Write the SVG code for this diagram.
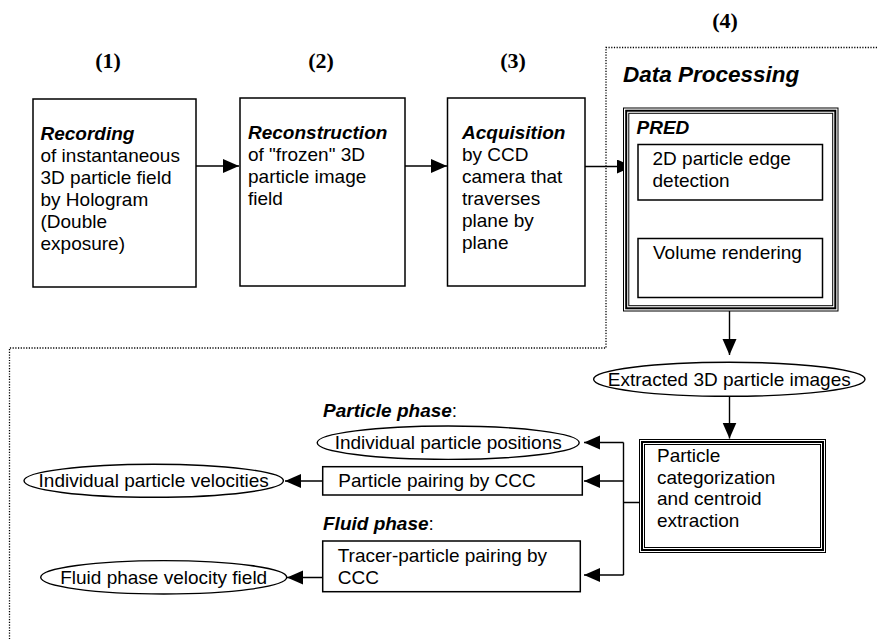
<svg xmlns="http://www.w3.org/2000/svg" width="877" height="639" viewBox="0 0 877 639">
<defs>
<marker id="ah" markerUnits="userSpaceOnUse" markerWidth="17" markerHeight="15" refX="16" refY="7" orient="auto">
<path d="M0,0 L16,7 L0,14 z" fill="#000"/>
</marker>
<style>
text{font-family:"Liberation Sans",Arial,sans-serif;font-size:19px;fill:#000}
.bi{font-weight:bold;font-style:italic}
.num{font-family:"Liberation Serif","Times New Roman",serif;font-weight:bold;font-size:22px}
.box{fill:#fff;stroke:#000;stroke-width:1.5}
.thin{fill:none;stroke:#000;stroke-width:1}
.thick{fill:none;stroke:#000;stroke-width:2}
.ell{fill:#fff;stroke:#000;stroke-width:1.4}
.con{fill:none;stroke:#000;stroke-width:1.4}
.arr{fill:none;stroke:#000;stroke-width:1.4;marker-end:url(#ah)}
.dot{fill:none;stroke:#000;stroke-width:1.3;stroke-dasharray:1.2 1.5}
</style>
</defs>
<rect width="877" height="639" fill="#fff"/>

<g id="region">
<path class="dot" d="M877,47.5 H606 V348 H9.5 V639"/>
</g>

<g id="labels">
<text class="num" x="108" y="68" text-anchor="middle">(1)</text>
<text class="num" x="321" y="68" text-anchor="middle">(2)</text>
<text class="num" x="513" y="68" text-anchor="middle">(3)</text>
<text class="num" x="725" y="28" text-anchor="middle">(4)</text>
<text class="bi" x="623" y="82" style="font-size:22.5px">Data Processing</text>
<text x="323" y="417"><tspan class="bi">Particle phase</tspan>:</text>
<text x="323" y="530"><tspan class="bi">Fluid phase</tspan>:</text>
</g>

<g id="connectors">
<line class="arr" x1="196" y1="166" x2="239" y2="166"/>
<line class="arr" x1="405" y1="166" x2="447" y2="166"/>
<line class="arr" x1="585" y1="166.5" x2="633" y2="166.5"/>
<line class="arr" x1="729.5" y1="200" x2="729.5" y2="236"/>
<line class="arr" x1="729.5" y1="311" x2="729.5" y2="355"/>
<line class="arr" x1="729.5" y1="396" x2="729.5" y2="438.5"/>
<path class="con" d="M639.5,502.5 H623.5 M623.5,442.5 V575"/>
<line class="arr" x1="623.5" y1="442.5" x2="584" y2="442.5"/>
<line class="arr" x1="623.5" y1="481" x2="584" y2="481"/>
<line class="arr" x1="623.5" y1="575" x2="584" y2="575"/>
<line class="arr" x1="322.5" y1="481" x2="285" y2="481"/>
<line class="arr" x1="322.5" y1="577.5" x2="287" y2="577.5"/>
</g>

<g id="recording">
<rect class="box" x="33" y="99" width="163" height="188"/>
<text x="40.5" y="140" class="bi">Recording</text>
<text x="40.5" y="162">of instantaneous</text>
<text x="40.5" y="184">3D particle field</text>
<text x="40.5" y="206">by Hologram</text>
<text x="40.5" y="228">(Double</text>
<text x="40.5" y="250">exposure)</text>
</g>

<g id="reconstruction">
<rect class="box" x="240" y="98" width="165" height="188"/>
<text x="248" y="138.5" class="bi">Reconstruction</text>
<text x="248" y="160.5">of "frozen" 3D</text>
<text x="248" y="182.5">particle image</text>
<text x="248" y="204.5">field</text>
</g>

<g id="acquisition">
<rect class="box" x="447.5" y="98" width="137.5" height="188"/>
<text x="462" y="139" class="bi">Acquisition</text>
<text x="462" y="161">by CCD</text>
<text x="462" y="183">camera that</text>
<text x="462" y="205">traverses</text>
<text x="462" y="227">plane by</text>
<text x="462" y="249">plane</text>
</g>

<g id="pred">
<rect x="623.5" y="108" width="214.5" height="203" fill="#fff" stroke="none"/>
<rect class="thin" x="623.5" y="108" width="214.5" height="203"/>
<rect class="thick" x="626.2" y="110.7" width="209.1" height="197.6"/>
<rect class="thin" x="628.8" y="113.3" width="203.9" height="192.4"/>
<text x="636.5" y="133.5" class="bi">PRED</text>
</g>

<g id="edge-detection">
<rect class="box" x="638" y="144.5" width="184.5" height="55.5"/>
<text x="652.5" y="165">2D particle edge</text>
<text x="652.5" y="187">detection</text>
</g>

<g id="volume-rendering">
<rect class="box" x="638" y="238.5" width="184.5" height="59"/>
<text x="653" y="258.5">Volume rendering</text>
</g>

<g id="extracted">
<ellipse class="ell" cx="729.3" cy="379.3" rx="135.7" ry="17"/>
<text x="729.3" y="385.5" text-anchor="middle">Extracted 3D particle images</text>
</g>

<g id="categorization">
<rect x="639.5" y="439.5" width="186" height="113" fill="#fff" stroke="none"/>
<rect class="thin" x="639.5" y="439.5" width="186" height="113"/>
<rect class="thick" x="642" y="442" width="181" height="108"/>
<rect class="thin" x="644.5" y="444.5" width="176" height="103"/>
<text x="657" y="462">Particle</text>
<text x="657" y="483.5">categorization</text>
<text x="657" y="505">and centroid</text>
<text x="657" y="526.5">extraction</text>
</g>

<g id="positions">
<ellipse class="ell" cx="448.2" cy="442.7" rx="131" ry="16.7"/>
<text x="448.2" y="448.7" text-anchor="middle">Individual particle positions</text>
</g>

<g id="pairing">
<rect class="box" x="322.7" y="466.7" width="259.6" height="28.3"/>
<text x="338.3" y="487">Particle pairing by CCC</text>
</g>

<g id="velocities">
<ellipse class="ell" cx="153.7" cy="480.8" rx="129.7" ry="16.5"/>
<text x="153.7" y="487" text-anchor="middle">Individual particle velocities</text>
</g>

<g id="tracer">
<rect class="box" x="322.7" y="541" width="257.6" height="50.7"/>
<text x="337.7" y="562">Tracer-particle pairing by</text>
<text x="337.7" y="583.5">CCC</text>
</g>

<g id="fluid-field">
<ellipse class="ell" cx="163.7" cy="577.3" rx="123" ry="16.7"/>
<text x="163.7" y="583.5" text-anchor="middle">Fluid phase velocity field</text>
</g>
</svg>
